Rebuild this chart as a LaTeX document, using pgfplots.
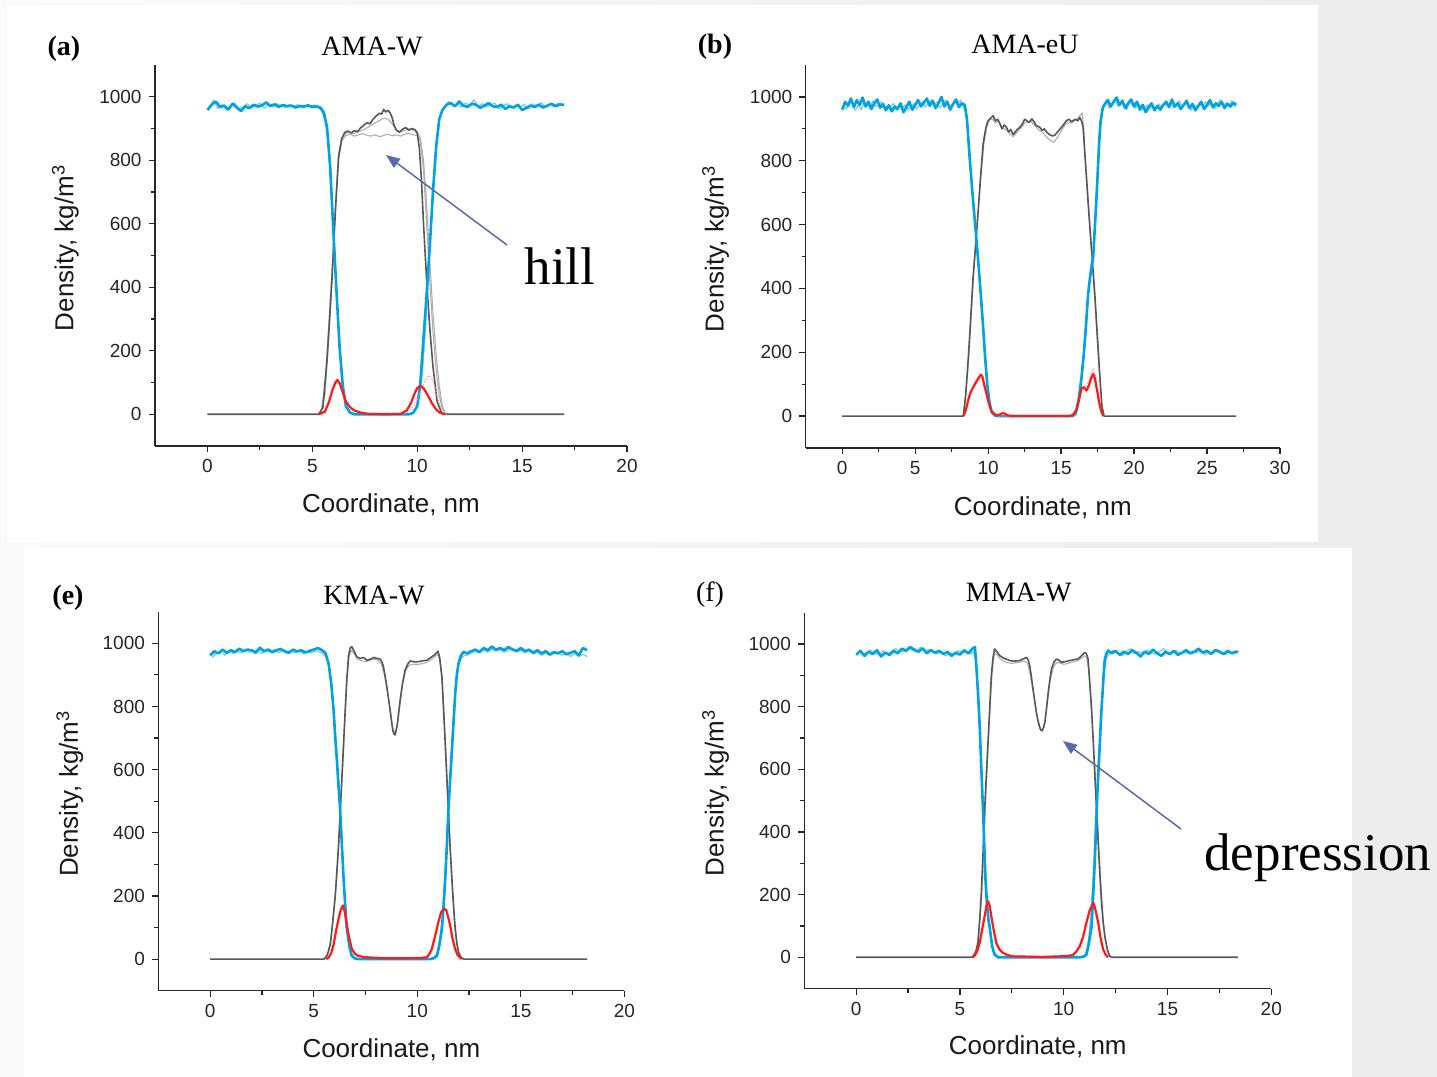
\documentclass[border=0pt]{standalone}
\usepackage{pgfplots}
\pgfplotsset{compat=1.18}
\usepackage{fontspec}
\setmainfont{Liberation Serif}
\setsansfont{Liberation Sans}
\usetikzlibrary{arrows.meta}
\definecolor{wblue}{RGB}{0,162,226}
\definecolor{wblue2}{RGB}{120,200,238}
\definecolor{ogray}{RGB}{88,88,88}
\definecolor{ogray2}{RGB}{175,175,175}
\definecolor{ired}{RGB}{255,25,25}
\definecolor{ired2}{RGB}{255,150,150}
\definecolor{arrowc}{RGB}{88,108,172}
\pgfplotsset{
  panel/.style={
    scale only axis, anchor=south west,
    axis lines=left, axis line style={-, line width=0.7pt, black!85},
    ymin=-100, ymax=1100, xmin=-2.5,
    ytick={0,200,400,600,800,1000}, minor y tick num=1,
    minor x tick num=1,
    tick align=outside, major tick length=3.2pt, minor tick length=2pt,
    every tick/.style={black!85, line width=0.6pt},
    tick label style={font=\sffamily\fontsize{9.5}{10}\selectfont, black!85},
    /pgf/number format/assume math mode=true,
    /pgf/number format/1000 sep={},
    xlabel={Coordinate, nm},
    ylabel={Density, kg/m\textsuperscript{3}},
    label style={font=\sffamily\fontsize{13}{14}\selectfont, black!90},
    xlabel style={at={(axis description cs:0.5,-0.155)}, anchor=center},
    ylabel style={at={(axis description cs:-0.19,0.52)}, anchor=center},
    every axis plot/.append style={no marks, sharp plot, line join=round},
  },
  bl/.style={wblue, line width=1.3pt},
  bl2/.style={wblue2, line width=0.6pt},
  gr/.style={ogray, line width=0.8pt},
  gr2/.style={ogray2, line width=0.55pt},
  rd/.style={ired, line width=1.1pt},
  rd2/.style={ired2, line width=0.6pt, densely dotted},
}
\begin{document}
\begin{tikzpicture}
% background
\shade[left color=white!98!black, right color=white!92.5!black] (0pt,0pt) rectangle (718.5pt,-538.5pt);
\fill[white] (3.5pt,-2.5pt) rectangle (659pt,-271pt);
\fill[white] (12pt,-274pt) rectangle (676pt,-538.5pt);

% ================= (a) =================
\begin{axis}[panel, at={(77.5pt,-223pt)}, width=236pt, height=190.5pt,
  xmax=20, xtick={0,5,10,15,20}]
\addplot[gr2] coordinates {(5.4,0)(5.6,60)(5.8,260)(5.95,450)(6.1,650)(6.25,800)(6.4,860)(6.6,878)(6.8,882)(7.0,876)(7.2,880)(7.4,884)(7.6,879)(7.8,876)(8.0,880)(8.2,874)(8.4,878)(8.6,882)(8.8,877)(9.0,880)(9.2,876)(9.4,882)(9.6,885)(9.8,880)(10.0,878)(10.15,860)(10.3,770)(10.45,600)(10.6,420)(10.75,260)(10.9,140)(11.05,60)(11.2,15)(11.4,0)};
\addplot[gr2] coordinates {(5.4,0)(5.6,90)(5.8,300)(5.95,470)(6.1,660)(6.25,815)(6.4,872)(6.6,885)(6.8,888)(7.0,884)(7.2,890)(7.4,895)(7.6,902)(7.8,910)(8.0,918)(8.2,925)(8.4,932)(8.6,930)(8.8,915)(9.0,896)(9.2,890)(9.4,894)(9.6,898)(9.8,895)(10.0,890)(10.15,870)(10.3,800)(10.45,660)(10.6,480)(10.75,320)(10.9,190)(11.05,90)(11.2,25)(11.35,3)(11.5,0)};
\addplot[gr] coordinates {(0,0)(5.3,0)(5.5,20)(5.7,170)(5.85,330)(5.95,440)(6.1,640)(6.25,810)(6.4,868)(6.55,888)(6.7,892)(6.85,886)(7.0,893)(7.15,890)(7.3,902)(7.45,910)(7.6,918)(7.75,915)(7.9,930)(8.05,940)(8.2,948)(8.3,945)(8.4,960)(8.5,952)(8.6,957)(8.7,950)(8.8,935)(8.9,910)(9.0,895)(9.15,888)(9.3,898)(9.45,903)(9.6,895)(9.75,900)(9.9,896)(10.0,885)(10.1,840)(10.2,740)(10.3,600)(10.45,420)(10.6,270)(10.75,150)(10.95,40)(11.15,6)(11.3,0)(17,0)};
\addplot[bl2] coordinates {(0.1,968)(0.3,990)(0.5,962)(0.7,975)(0.9,958)(1.1,972)(1.3,980)(1.5,962)(1.7,968)(1.9,978)(2.1,966)(2.3,972)(2.5,980)(2.7,964)(2.9,975)(3.1,968)(3.3,978)(3.5,972)(3.7,966)(3.9,975)(4.1,970)(4.3,975)(4.5,965)(4.7,972)(4.9,968)(5.1,974)(5.3,966)(5.45,955)(5.6,925)(5.75,860)(5.9,700)(6.05,520)(6.2,330)(6.35,170)(6.5,70)(6.65,22)(6.85,4)(7.1,0)(9.7,0)(9.9,10)(10.1,50)(10.25,130)(10.4,280)(10.55,450)(10.7,640)(10.85,810)(11.0,910)(11.15,955)(11.3,970)(11.5,985)(11.7,972)(11.9,978)(12.1,968)(12.3,980)(12.5,972)(12.7,990)(12.9,970)(13.1,978)(13.3,968)(13.5,975)(13.7,980)(13.9,962)(14.1,972)(14.3,978)(14.5,965)(14.7,972)(14.9,968)(15.1,975)(15.3,962)(15.5,978)(15.7,970)(15.9,982)(16.1,968)(16.3,975)(16.5,970)(16.7,980)(16.9,972)(17.0,978)};
\addplot[bl] coordinates {(0.0,958)(0.2,975)(0.4,985)(0.6,968)(0.8,972)(1.0,960)(1.2,978)(1.4,966)(1.6,955)(1.8,970)(2.0,964)(2.2,975)(2.4,969)(2.6,973)(2.8,982)(3.0,971)(3.2,976)(3.4,968)(3.6,974)(3.8,970)(4.0,972)(4.2,966)(4.4,971)(4.6,969)(4.8,973)(5.0,968)(5.2,970)(5.4,965)(5.55,950)(5.7,905)(5.85,780)(6.0,580)(6.15,390)(6.3,210)(6.45,90)(6.6,25)(6.8,5)(7.0,0)(9.6,0)(9.8,4)(10.0,25)(10.15,100)(10.3,240)(10.45,380)(10.6,530)(10.75,700)(10.9,840)(11.05,930)(11.2,958)(11.4,975)(11.6,980)(11.8,970)(12.0,985)(12.2,972)(12.4,968)(12.6,978)(12.8,975)(13.0,965)(13.2,972)(13.4,980)(13.6,970)(13.8,968)(14.0,975)(14.2,962)(14.4,970)(14.6,966)(14.8,975)(15.0,958)(15.2,965)(15.4,972)(15.6,968)(15.8,975)(16.0,966)(16.2,972)(16.4,978)(16.6,970)(16.8,976)(17.0,974)};
\addplot[rd2] coordinates {(5.4,0)(5.7,20)(5.9,60)(6.05,90)(6.2,102)(6.35,90)(6.5,62)(6.7,32)(6.9,15)(7.2,6)(7.6,2)(8.5,0)(9.3,2)(9.6,8)(9.9,30)(10.1,60)(10.3,95)(10.45,115)(10.6,122)(10.75,105)(10.9,70)(11.05,35)(11.2,12)(11.4,0)};
\addplot[rd] coordinates {(5.3,0)(5.6,8)(5.8,40)(5.95,75)(6.1,100)(6.2,108)(6.3,98)(6.45,70)(6.6,40)(6.8,22)(7.0,12)(7.3,5)(7.7,1)(8.5,0)(9.2,1)(9.5,12)(9.7,35)(9.85,62)(10.0,82)(10.15,90)(10.3,82)(10.5,60)(10.7,35)(10.9,15)(11.1,4)(11.3,0)};
\end{axis}

% ================= (b) =================
\begin{axis}[panel, at={(402.85pt,-224pt)}, width=237.15pt, height=191.5pt,
  xmax=30, xtick={0,5,10,15,20,25,30}]
\addplot[gr2] coordinates {(8.3,0)(8.5,80)(8.7,200)(8.9,370)(9.1,510)(9.3,630)(9.5,750)(9.7,850)(9.9,905)(10.1,928)(10.3,930)(10.5,918)(10.7,925)(10.9,905)(11.1,900)(11.3,895)(11.5,885)(11.7,875)(11.9,885)(12.1,895)(12.3,905)(12.5,918)(12.7,922)(12.9,925)(13.1,915)(13.3,905)(13.5,895)(13.7,890)(13.9,880)(14.1,870)(14.3,862)(14.5,858)(14.7,870)(14.9,885)(15.1,900)(15.3,915)(15.5,920)(15.7,918)(15.9,925)(16.1,930)(16.3,942)(16.45,950)(16.55,900)(16.7,770)(16.85,680)(17.0,580)(17.2,440)(17.4,300)(17.6,150)(17.75,50)(17.9,5)(18.0,0)};
\addplot[gr] coordinates {(0,0)(8.3,0)(8.45,60)(8.63,174)(8.8,300)(8.97,435)(9.15,540)(9.32,644)(9.5,760)(9.66,853)(9.85,905)(10.0,926)(10.2,935)(10.34,941)(10.5,925)(10.65,930)(10.8,917)(10.95,900)(11.1,912)(11.26,905)(11.4,890)(11.55,898)(11.72,882)(11.85,890)(12.0,898)(12.17,905)(12.35,915)(12.5,930)(12.63,926)(12.8,920)(13.0,931)(13.15,922)(13.3,910)(13.54,905)(13.7,895)(13.85,900)(14.0,890)(14.2,882)(14.4,878)(14.57,880)(14.75,890)(14.9,898)(15.03,905)(15.2,915)(15.37,926)(15.55,930)(15.7,922)(15.83,926)(16.0,930)(16.15,925)(16.28,936)(16.4,925)(16.51,905)(16.6,840)(16.74,749)(16.85,670)(16.97,592)(17.15,480)(17.31,383)(17.5,240)(17.66,122)(17.8,30)(17.95,0)(27,0)};
\addplot[bl2] coordinates {(0.1,970)(0.3,962)(0.5,990)(0.7,978)(0.9,958)(1.1,975)(1.3,960)(1.5,985)(1.7,975)(1.9,965)(2.1,988)(2.3,970)(2.5,975)(2.7,985)(2.9,962)(3.1,972)(3.3,966)(3.5,980)(3.7,958)(3.9,975)(4.1,965)(4.3,975)(4.5,958)(4.7,970)(4.9,978)(5.1,962)(5.3,975)(5.5,985)(5.7,968)(5.9,980)(6.1,990)(6.3,972)(6.5,985)(6.7,965)(6.9,978)(7.1,990)(7.3,972)(7.5,968)(7.7,985)(7.9,975)(8.1,990)(8.3,970)(8.45,955)(8.6,900)(8.8,780)(9.0,650)(9.2,550)(9.4,440)(9.6,320)(9.75,210)(9.9,120)(10.05,55)(10.2,20)(10.4,5)(10.7,0)(15.8,0)(16.0,12)(16.2,60)(16.4,135)(16.55,205)(16.7,300)(16.85,395)(17.0,455)(17.2,520)(17.35,640)(17.5,780)(17.6,870)(17.7,935)(17.9,975)(18.1,985)(18.3,965)(18.5,978)(18.7,990)(18.9,970)(19.1,982)(19.3,972)(19.5,960)(19.7,985)(19.9,975)(20.1,965)(20.3,978)(20.5,970)(20.7,958)(20.9,975)(21.1,962)(21.3,972)(21.5,965)(21.7,978)(21.9,968)(22.1,980)(22.3,972)(22.5,985)(22.7,965)(22.9,975)(23.1,988)(23.3,968)(23.5,980)(23.7,972)(23.9,958)(24.1,975)(24.3,966)(24.5,978)(24.7,970)(24.9,985)(25.1,972)(25.3,980)(25.5,962)(25.7,975)(25.9,990)(26.1,970)(26.3,982)(26.5,975)(26.7,988)(26.9,970)(27.0,980)};
\addplot[bl] coordinates {(0.0,960)(0.2,985)(0.4,972)(0.6,995)(0.8,968)(1.0,990)(1.2,975)(1.4,998)(1.6,970)(1.8,985)(2.0,962)(2.2,980)(2.4,992)(2.6,966)(2.8,978)(3.0,958)(3.2,974)(3.4,955)(3.6,970)(3.8,962)(4.0,980)(4.2,952)(4.4,968)(4.6,985)(4.8,960)(5.0,975)(5.2,990)(5.4,970)(5.6,982)(5.8,995)(6.0,972)(6.2,988)(6.4,965)(6.6,980)(6.8,1000)(7.0,970)(7.2,985)(7.4,960)(7.6,978)(7.8,992)(8.0,968)(8.2,980)(8.4,975)(8.55,930)(8.75,800)(8.97,675)(9.15,580)(9.32,487)(9.5,380)(9.66,278)(9.8,180)(9.95,95)(10.1,40)(10.25,12)(10.45,2)(10.7,0)(15.8,0)(16.0,8)(16.2,50)(16.4,120)(16.55,190)(16.7,280)(16.85,380)(17.0,440)(17.2,500)(17.35,620)(17.5,750)(17.6,850)(17.7,920)(17.85,965)(18.0,978)(18.2,990)(18.4,970)(18.6,985)(18.8,998)(19.0,975)(19.2,988)(19.4,965)(19.6,980)(19.8,992)(20.0,970)(20.2,985)(20.4,960)(20.6,975)(20.8,952)(21.0,968)(21.2,980)(21.4,958)(21.6,972)(21.8,960)(22.0,975)(22.2,985)(22.4,968)(22.6,992)(22.8,970)(23.0,980)(23.2,962)(23.4,975)(23.6,988)(23.8,965)(24.0,978)(24.2,958)(24.4,972)(24.6,985)(24.8,962)(25.0,975)(25.2,990)(25.4,968)(25.6,980)(25.8,972)(26.0,985)(26.2,965)(26.4,978)(26.6,970)(26.8,982)(27.0,975)};
\addplot[rd2] coordinates {(8.3,0)(8.5,25)(8.7,60)(8.9,82)(9.1,95)(9.3,105)(9.5,118)(9.65,110)(9.8,85)(10.0,45)(10.2,18)(10.4,5)(10.7,0)(15.6,0)(15.9,10)(16.1,30)(16.3,70)(16.5,95)(16.7,90)(16.9,110)(17.05,135)(17.2,148)(17.35,130)(17.5,90)(17.65,45)(17.8,12)(17.95,0)};
\addplot[rd] coordinates {(8.3,0)(8.45,15)(8.63,49)(8.8,75)(8.97,90)(9.15,105)(9.35,120)(9.5,130)(9.6,125)(9.75,95)(9.89,70)(10.05,40)(10.23,15)(10.45,6)(10.6,3)(10.8,5)(11.0,9)(11.15,8)(11.35,2)(11.7,0)(15.5,0)(15.8,3)(16.06,20)(16.25,55)(16.4,88)(16.55,90)(16.74,80)(16.9,95)(17.05,118)(17.2,132)(17.3,120)(17.45,85)(17.6,45)(17.75,15)(17.9,0)};
\end{axis}

% ================= (e) =================
\begin{axis}[panel, at={(79.2pt,-495.35pt)}, width=233pt, height=189.5pt,
  xmax=20, xtick={0,5,10,15,20}]
\addplot[gr2] coordinates {(5.5,0)(5.7,20)(5.85,70)(6.0,170)(6.1,250)(6.2,350)(6.3,480)(6.4,620)(6.5,760)(6.6,880)(6.7,955)(6.8,978)(6.95,968)(7.1,950)(7.3,945)(7.5,942)(7.7,946)(7.9,950)(8.1,946)(8.25,935)(8.4,905)(8.5,870)(8.6,830)(8.7,785)(8.8,735)(8.9,718)(8.95,715)(9.0,730)(9.1,775)(9.2,825)(9.3,875)(9.45,915)(9.6,930)(9.8,934)(10.0,933)(10.2,935)(10.4,938)(10.6,945)(10.8,955)(11.0,965)(11.1,940)(11.2,880)(11.3,760)(11.4,620)(11.5,480)(11.6,340)(11.7,220)(11.8,120)(11.9,60)(12.0,25)(12.15,5)(12.3,0)};
\addplot[gr] coordinates {(0,0)(5.5,0)(5.65,12)(5.8,46)(5.92,120)(6.04,202)(6.12,280)(6.2,362)(6.28,470)(6.36,574)(6.44,680)(6.52,787)(6.6,890)(6.68,960)(6.76,985)(6.84,989)(6.95,975)(7.08,957)(7.25,952)(7.4,955)(7.57,946)(7.75,950)(7.9,955)(8.05,952)(8.21,950)(8.3,940)(8.37,925)(8.45,895)(8.53,862)(8.61,825)(8.69,787)(8.76,752)(8.82,723)(8.88,712)(8.93,710)(8.98,725)(9.04,744)(9.1,780)(9.17,819)(9.28,870)(9.41,915)(9.55,935)(9.66,944)(9.8,942)(9.98,941)(10.15,943)(10.3,945)(10.46,946)(10.65,955)(10.86,965)(11.0,975)(11.08,955)(11.19,893)(11.27,790)(11.35,681)(11.43,570)(11.5,468)(11.58,360)(11.67,255)(11.75,170)(11.83,96)(11.91,50)(11.99,21)(12.1,5)(12.25,0)(18.2,0)};
\addplot[bl2] coordinates {(0.1,955)(0.3,968)(0.5,975)(0.7,962)(0.9,978)(1.1,968)(1.3,975)(1.5,970)(1.7,982)(1.9,972)(2.1,975)(2.3,980)(2.5,968)(2.7,978)(2.9,972)(3.1,980)(3.3,970)(3.5,976)(3.7,968)(3.9,975)(4.1,970)(4.3,978)(4.5,966)(4.7,974)(4.9,970)(5.1,976)(5.3,972)(5.45,968)(5.6,955)(5.75,920)(5.9,840)(6.0,760)(6.1,660)(6.2,560)(6.3,450)(6.4,320)(6.5,200)(6.6,110)(6.7,50)(6.85,12)(7.05,2)(7.3,0)(10.6,0)(10.8,5)(10.95,20)(11.07,60)(11.19,120)(11.27,195)(11.35,280)(11.43,390)(11.5,490)(11.58,580)(11.67,680)(11.75,770)(11.83,850)(11.91,905)(11.99,935)(12.1,950)(12.25,960)(12.4,962)(12.6,968)(12.8,975)(13.0,970)(13.2,978)(13.4,972)(13.6,982)(13.8,975)(14.0,980)(14.2,972)(14.4,978)(14.6,985)(14.8,972)(15.0,978)(15.2,970)(15.4,976)(15.6,966)(15.8,972)(16.0,962)(16.2,970)(16.4,960)(16.6,968)(16.8,972)(17.0,962)(17.2,970)(17.4,958)(17.6,968)(17.8,958)(18.0,965)(18.2,958)};
\addplot[bl] coordinates {(0.0,962)(0.2,975)(0.4,968)(0.6,980)(0.8,970)(1.0,978)(1.2,972)(1.4,983)(1.6,975)(1.8,980)(2.0,978)(2.2,970)(2.4,986)(2.6,975)(2.8,980)(3.0,972)(3.2,978)(3.4,982)(3.6,975)(3.8,970)(4.0,980)(4.2,974)(4.4,978)(4.6,971)(4.8,976)(5.0,980)(5.2,985)(5.4,978)(5.56,970)(5.72,936)(5.85,870)(5.96,787)(6.04,700)(6.12,628)(6.2,545)(6.28,468)(6.36,360)(6.44,255)(6.52,170)(6.6,96)(6.72,40)(6.84,10)(7.0,2)(7.2,0)(10.6,0)(10.8,3)(10.95,10)(11.07,45)(11.19,96)(11.27,170)(11.35,255)(11.43,360)(11.5,468)(11.58,560)(11.67,660)(11.75,750)(11.83,840)(11.91,900)(11.99,936)(12.1,960)(12.23,973)(12.4,968)(12.6,975)(12.8,980)(13.0,972)(13.2,985)(13.4,978)(13.6,990)(13.8,980)(14.0,985)(14.2,978)(14.4,988)(14.6,980)(14.8,976)(15.0,985)(15.2,975)(15.4,980)(15.6,970)(15.8,978)(16.0,968)(16.2,975)(16.4,965)(16.6,972)(16.8,968)(17.0,975)(17.2,965)(17.4,970)(17.6,975)(17.8,962)(18.0,985)(18.2,978)};
\addplot[rd] coordinates {(5.6,0)(5.72,5)(5.85,20)(5.96,46)(6.08,90)(6.2,128)(6.3,155)(6.41,170)(6.5,150)(6.6,106)(6.72,65)(6.84,32)(7.0,16)(7.16,10)(7.4,7)(7.7,5)(8.5,3)(9.5,3)(10.2,4)(10.46,6)(10.6,18)(10.7,32)(10.85,70)(11.02,118)(11.15,148)(11.3,160)(11.4,155)(11.5,130)(11.59,106)(11.7,65)(11.83,32)(11.95,12)(12.15,0)};
\end{axis}

% ================= (f) =================
\begin{axis}[panel, at={(402.15pt,-494.3pt)}, width=233.5pt, height=188pt,
  xmax=20, xtick={0,5,10,15,20}]
\addplot[gr2] coordinates {(5.6,0)(5.8,25)(5.95,110)(6.05,200)(6.15,360)(6.25,520)(6.35,660)(6.45,800)(6.55,910)(6.65,965)(6.75,968)(6.9,955)(7.1,945)(7.3,940)(7.5,938)(7.7,940)(7.9,942)(8.1,945)(8.25,938)(8.35,915)(8.45,880)(8.55,840)(8.65,795)(8.75,758)(8.85,732)(8.95,722)(9.05,735)(9.15,780)(9.25,835)(9.35,885)(9.5,925)(9.65,940)(9.8,940)(10.0,935)(10.2,938)(10.4,942)(10.6,945)(10.8,952)(11.0,962)(11.1,958)(11.2,920)(11.3,830)(11.4,720)(11.5,600)(11.6,470)(11.7,340)(11.8,220)(11.9,120)(12.0,55)(12.15,10)(12.3,0)};
\addplot[gr] coordinates {(0,0)(5.6,0)(5.75,15)(5.87,46)(5.95,120)(6.03,206)(6.11,330)(6.19,472)(6.27,580)(6.35,685)(6.43,790)(6.51,898)(6.59,955)(6.67,984)(6.78,975)(6.91,963)(7.1,955)(7.4,947)(7.6,945)(7.88,947)(8.05,952)(8.2,957)(8.28,950)(8.36,931)(8.44,895)(8.52,856)(8.6,818)(8.68,782)(8.76,755)(8.84,734)(8.9,725)(8.96,723)(9.02,732)(9.09,750)(9.17,795)(9.25,845)(9.33,885)(9.41,920)(9.53,942)(9.65,952)(9.77,948)(9.89,941)(10.1,944)(10.29,947)(10.5,950)(10.69,952)(10.85,962)(11.01,973)(11.1,968)(11.17,952)(11.25,880)(11.34,792)(11.42,690)(11.5,578)(11.58,470)(11.66,366)(11.74,265)(11.82,174)(11.9,110)(11.98,67)(12.1,25)(12.22,3)(12.35,0)(18.4,0)};
\addplot[bl2] coordinates {(0.1,975)(0.3,968)(0.5,972)(0.7,980)(0.9,970)(1.1,965)(1.3,978)(1.5,968)(1.7,975)(1.9,985)(2.1,975)(2.3,978)(2.5,988)(2.7,980)(2.9,975)(3.1,990)(3.3,978)(3.5,982)(3.7,975)(3.9,968)(4.1,975)(4.3,962)(4.5,970)(4.7,968)(4.9,978)(5.1,972)(5.3,975)(5.5,968)(5.65,975)(5.75,950)(5.85,860)(5.93,770)(6.0,660)(6.08,530)(6.15,410)(6.22,300)(6.3,200)(6.4,120)(6.5,60)(6.62,20)(6.8,3)(7.0,0)(10.8,0)(11.0,6)(11.1,20)(11.2,60)(11.3,130)(11.4,240)(11.48,350)(11.55,460)(11.62,560)(11.7,660)(11.78,750)(11.86,830)(11.94,900)(12.02,945)(12.12,965)(12.25,972)(12.4,980)(12.6,970)(12.8,962)(13.0,975)(13.2,985)(13.4,968)(13.6,975)(13.8,970)(14.0,980)(14.2,972)(14.4,968)(14.6,975)(14.8,985)(15.0,972)(15.2,968)(15.4,980)(15.6,970)(15.8,975)(16.0,968)(16.2,978)(16.4,972)(16.6,980)(16.8,965)(17.0,975)(17.2,970)(17.4,982)(17.6,972)(17.8,966)(18.0,975)(18.2,968)(18.4,975)};
\addplot[bl] coordinates {(0.0,965)(0.2,978)(0.4,962)(0.6,975)(0.8,968)(1.0,980)(1.2,960)(1.4,972)(1.6,965)(1.8,978)(2.0,970)(2.2,985)(2.4,978)(2.6,990)(2.8,982)(3.0,975)(3.2,986)(3.4,970)(3.6,980)(3.8,972)(4.0,978)(4.2,968)(4.4,975)(4.6,962)(4.8,972)(5.0,966)(5.2,980)(5.4,970)(5.6,985)(5.72,990)(5.8,920)(5.88,830)(5.95,739)(6.03,600)(6.11,472)(6.17,360)(6.22,259)(6.3,170)(6.37,120)(6.43,97)(6.55,35)(6.67,8)(6.85,0)(10.8,0)(11.0,3)(11.09,8)(11.2,40)(11.34,97)(11.42,200)(11.5,312)(11.56,420)(11.62,525)(11.68,605)(11.74,685)(11.8,770)(11.87,845)(11.93,910)(11.98,952)(12.06,970)(12.14,979)(12.3,970)(12.5,978)(12.7,965)(12.9,975)(13.1,968)(13.3,980)(13.5,972)(13.7,960)(13.9,975)(14.1,968)(14.3,982)(14.5,970)(14.7,962)(14.9,975)(15.1,968)(15.3,978)(15.5,965)(15.7,972)(15.9,980)(16.1,970)(16.3,975)(16.5,985)(16.7,972)(16.9,978)(17.1,968)(17.3,980)(17.5,975)(17.7,968)(17.9,978)(18.1,970)(18.3,976)(18.4,973)};
\addplot[rd] coordinates {(5.6,0)(5.71,5)(5.83,20)(5.95,46)(6.07,90)(6.19,131)(6.28,165)(6.35,179)(6.43,165)(6.51,131)(6.63,85)(6.75,46)(6.9,25)(7.07,14)(7.3,7)(7.55,3)(9.0,1)(10.2,4)(10.45,8)(10.6,18)(10.77,35)(10.93,65)(11.09,110)(11.25,150)(11.42,174)(11.5,160)(11.58,135)(11.66,110)(11.78,60)(11.9,25)(12.02,8)(12.14,0)};
\end{axis}

% ================= titles and annotations =================
\begin{scope}[every node/.style={inner sep=0pt}]
\node[anchor=base, font=\bfseries\fontsize{14}{16}\selectfont] at (32pt,-27.5pt) {(a)};
\node[anchor=base, font=\fontsize{14}{16}\selectfont] at (186pt,-27.5pt) {AMA-W};
\node[anchor=base, font=\bfseries\fontsize{14}{16}\selectfont] at (357.5pt,-26.5pt) {(b)};
\node[anchor=base, font=\fontsize{14}{16}\selectfont] at (512.5pt,-26.5pt) {AMA-eU};
\node[anchor=base, font=\bfseries\fontsize{14}{16}\selectfont] at (34pt,-302pt) {(e)};
\node[anchor=base, font=\fontsize{14}{16}\selectfont] at (187pt,-302pt) {KMA-W};
\node[anchor=base, font=\fontsize{14}{16}\selectfont] at (355pt,-300.8pt) {(f)};
\node[anchor=base, font=\fontsize{14}{16}\selectfont] at (509.4pt,-300.8pt) {MMA-W};
\node[anchor=base, font=\fontsize{26.5}{30}\selectfont] at (280pt,-142.2pt) {hill};
\node[anchor=base, font=\fontsize{26.5}{30}\selectfont] at (658.9pt,-435.2pt) {depression};
\end{scope}
\draw[arrowc, line width=0.75pt, -{Triangle[length=7pt,width=5.5pt]}] (253.5pt,-122.5pt) -- (193pt,-77.5pt);
\draw[arrowc, line width=0.75pt, -{Triangle[length=7pt,width=5.5pt]}] (590.5pt,-414.5pt) -- (531.5pt,-370.5pt);
\end{tikzpicture}
\end{document}
